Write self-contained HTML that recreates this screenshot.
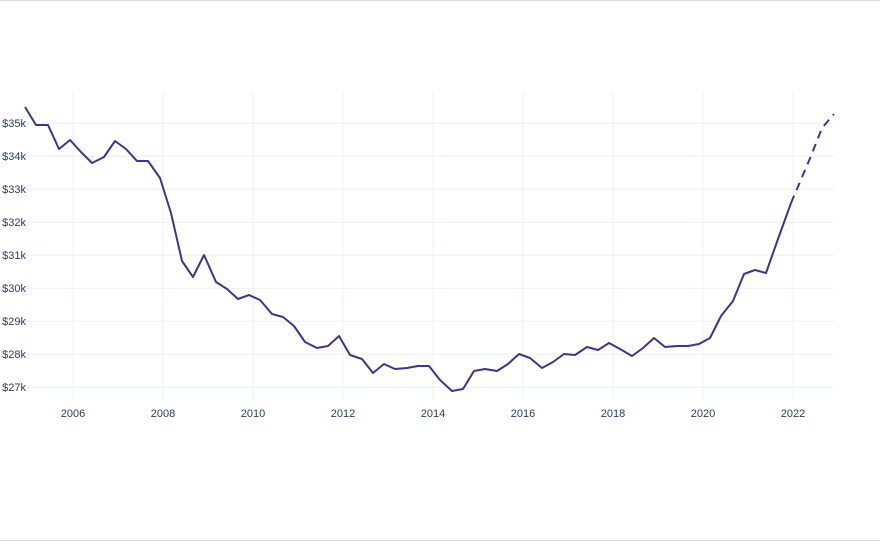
<!DOCTYPE html>
<html><head><meta charset="utf-8"><style>
html,body{margin:0;padding:0;background:#fff;}
body{width:880px;height:542px;overflow:hidden;position:relative;}
svg text{font-family:"Liberation Sans",sans-serif;font-size:11px;fill:#2a3f5f;}
</style></head><body>
<svg width="880" height="542" viewBox="0 0 880 542" xmlns="http://www.w3.org/2000/svg">
<line x1="0" y1="0.5" x2="880" y2="0.5" stroke="#ddd"/>
<line x1="0" y1="540.5" x2="880" y2="540.5" stroke="#ddd"/>
<g stroke="#ebf0f8" stroke-width="1">
<line x1="18" x2="834" y1="123.3" y2="123.3"/>
<line x1="18" x2="834" y1="156.3" y2="156.3"/>
<line x1="18" x2="834" y1="189.3" y2="189.3"/>
<line x1="18" x2="834" y1="222.3" y2="222.3"/>
<line x1="18" x2="834" y1="255.3" y2="255.3"/>
<line x1="18" x2="834" y1="288.3" y2="288.3"/>
<line x1="18" x2="834" y1="321.3" y2="321.3"/>
<line x1="18" x2="834" y1="354.3" y2="354.3"/>
<line x1="18" x2="834" y1="387.3" y2="387.3"/>
<line x1="73" x2="73" y1="92" y2="400"/>
<line x1="163" x2="163" y1="92" y2="400"/>
<line x1="253" x2="253" y1="92" y2="400"/>
<line x1="343" x2="343" y1="92" y2="400"/>
<line x1="433" x2="433" y1="92" y2="400"/>
<line x1="523" x2="523" y1="92" y2="400"/>
<line x1="613" x2="613" y1="92" y2="400"/>
<line x1="703" x2="703" y1="92" y2="400"/>
<line x1="793" x2="793" y1="92" y2="400"/>
</g>
<g text-anchor="end">
<text x="26" y="127">$35k</text><text x="26" y="160">$34k</text><text x="26" y="193">$33k</text>
<text x="26" y="226">$32k</text><text x="26" y="259">$31k</text><text x="26" y="292">$30k</text>
<text x="26" y="325">$29k</text><text x="26" y="358">$28k</text><text x="26" y="391">$27k</text>
</g>
<g text-anchor="middle">
<text x="73" y="417">2006</text><text x="163" y="417">2008</text><text x="253" y="417">2010</text>
<text x="343" y="417">2012</text><text x="433" y="417">2014</text><text x="523" y="417">2016</text>
<text x="613" y="417">2018</text><text x="703" y="417">2020</text><text x="793" y="417">2022</text>
</g>
<polyline fill="none" stroke="#3f3590" stroke-width="2" stroke-linejoin="round" points="25,107 36,125 48,125 59,149 70,140 81,152 92,163 104,157 115,141 126,149 137,161 148,161 160,178 171,213 182,261 193,277 204,255 216,282 227,289 238,299 249,295 260,300 272,314 283,317 294,326 305,342 317,348 328,346 339,336 350,355 362,359 373,373 384,364 395,369 407,368 418,366 429,366 440,380 452,391 463,389 474,371 485,369 497,371 508,364 519,354 530,358 542,368 553,362 564,354 575,355 587,347 598,350 609,343 620,349 632,356 643,348 654,338 665,347 677,346 688,346 699,344 710,338 721,316 733,301 744,274 755,270 766,273 778,239 791,203"/>
<polyline fill="none" stroke="#3f3590" stroke-width="2" stroke-dasharray="8,6" points="791,203 811,156 822,128 834,114"/>
</svg>
</body></html>
